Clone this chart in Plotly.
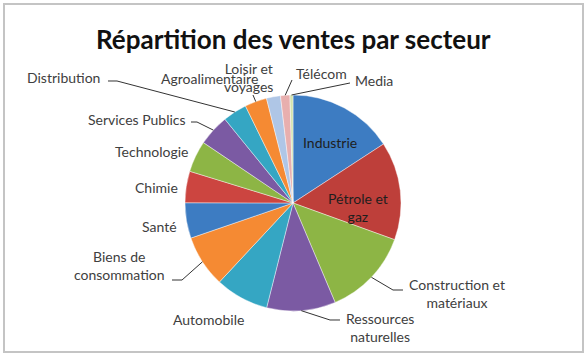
import math
import plotly.graph_objects as go

# ---- data ----
sectors = ["Industrie", "Pétrole et gaz", "Construction et matériaux", "Ressources naturelles",
           "Automobile", "Biens de consommation", "Santé", "Chimie", "Technologie",
           "Services Publics", "Distribution", "Agroalimentaire", "Loisir et voyages",
           "Télécom", "Media"]
shares = [15.8, 14.7, 13.1, 10.3, 8.0, 7.8, 5.3, 4.7, 4.7, 4.7, 3.6, 3.3, 2.1, 1.4, 0.45]
label_texts = ["Industrie", "Pétrole et<br>gaz", "Construction et<br>matériaux", "Ressources<br>naturelles",
               "Automobile", "Biens de<br>consommation", "Santé", "Chimie", "Technologie",
               "Services Publics", "Distribution", "Agroalimentaire", "Loisir et<br>voyages",
               "Télécom", "Media"]
title_text = "Répartition des ventes par secteur"

# ---- styling / layout ----
W, H = 588, 356
CX, CY, R = 293, 203, 108
colors = ["#3D7CC2", "#BE3F3A", "#8DB545", "#7B5AA3", "#35A6C3", "#F58A33",
          "#3D7CC2", "#CC4540", "#8DB545", "#7B5AA3", "#35A6C3", "#F58A33",
          "#AFC6E6", "#E8AFAE", "#D2E3AE"]
FONT = "Lato"
TXT = "#404040"


def P(x, y):
    return x / W, 1 - y / H


# label placement (pixels): x, y, xanchor
label_pos = {
    "Industrie": (330, 142, "center"),
    "Pétrole et gaz": (358, 207, "center"),
    "Construction et matériaux": (457, 293, "center"),
    "Ressources naturelles": (380, 327, "center"),
    "Automobile": (208, 319, "center"),
    "Biens de consommation": (119, 265, "center"),
    "Santé": (179, 226, "right"),
    "Chimie": (180, 188, "right"),
    "Technologie": (190, 152, "right"),
    "Services Publics": (188, 120, "right"),
    "Distribution": (102, 77, "right"),
    "Agroalimentaire": (209, 78, "center"),
    "Loisir et voyages": (248, 77, "center"),
    "Télécom": (294, 73, "left"),
    "Media": (353, 80, "left"),
}
# leader line points near label (pixels); slice end computed from data
leader_pts = {
    "Construction et matériaux": [(403, 290), (393, 290)],
    "Ressources naturelles": [(340, 320), (330, 320)],
    "Biens de consommation": [(172, 280), (182, 280)],
    "Services Publics": [(191, 122), (197, 122)],
    "Distribution": [(108, 81), (117, 81)],
    "Agroalimentaire": [(253, 95)],
    "Télécom": [(292, 80)],
    "Media": [(350, 83)],
}

fig = go.Figure()
x0, y1 = P(CX - R, CY - R)
x1, y0 = P(CX + R, CY + R)
fig.add_trace(go.Pie(
    labels=sectors, values=shares, sort=False, direction="clockwise", rotation=0,
    marker=dict(colors=colors, line=dict(color="rgba(255,255,255,0.6)", width=0.7)),
    textinfo="none", hoverinfo="label+percent", showlegend=False,
    domain=dict(x=[x0, x1], y=[y0, y1]),
))

total = sum(shares)
cum = 0.0
annotations = []
shapes = []
for name, val, txt in zip(sectors, shares, label_texts):
    mid = math.radians(360 * (cum + val / 2) / total)
    cum += val
    ex, ey = CX + R * math.sin(mid), CY - R * math.cos(mid)
    lx, ly, anc = label_pos[name]
    ax_, ay_ = P(lx, ly)
    inside = name in ("Industrie", "Pétrole et gaz")
    annotations.append(dict(
        text=txt, x=ax_, y=ay_, xref="paper", yref="paper", xanchor=anc, yanchor="middle",
        showarrow=False, font=dict(family=FONT, size=14, color="#1E1E1E" if inside else TXT),
    ))
    if name in leader_pts:
        pts = leader_pts[name] + [(ex, ey)]
        path = "M " + " L ".join("%f,%f" % P(px, py) for px, py in pts)
        shapes.append(dict(type="path", path=path, xref="paper", yref="paper",
                           line=dict(color="#333333", width=1)))

# outer chart border
bx0, by1 = P(4, 4)
bx1, by0 = P(583, 352)
shapes.append(dict(type="rect", x0=bx0, y0=by0, x1=bx1, y1=by1, xref="paper", yref="paper",
                   line=dict(color="#C4C4C4", width=2), layer="below"))

tx, ty = P(293, 39)
annotations.append(dict(text="<b>%s</b>" % title_text, x=tx, y=ty, xref="paper", yref="paper",
                        xanchor="center", yanchor="middle", showarrow=False,
                        font=dict(family=FONT, size=26, color="#111111")))

fig.update_layout(
    width=W, height=H, margin=dict(l=0, r=0, t=0, b=0),
    paper_bgcolor="white", plot_bgcolor="white",
    annotations=annotations, shapes=shapes,
)
fig.write_html("out.html", config={"displayModeBar": False},
               post_script="document.body.style.margin='0';")
